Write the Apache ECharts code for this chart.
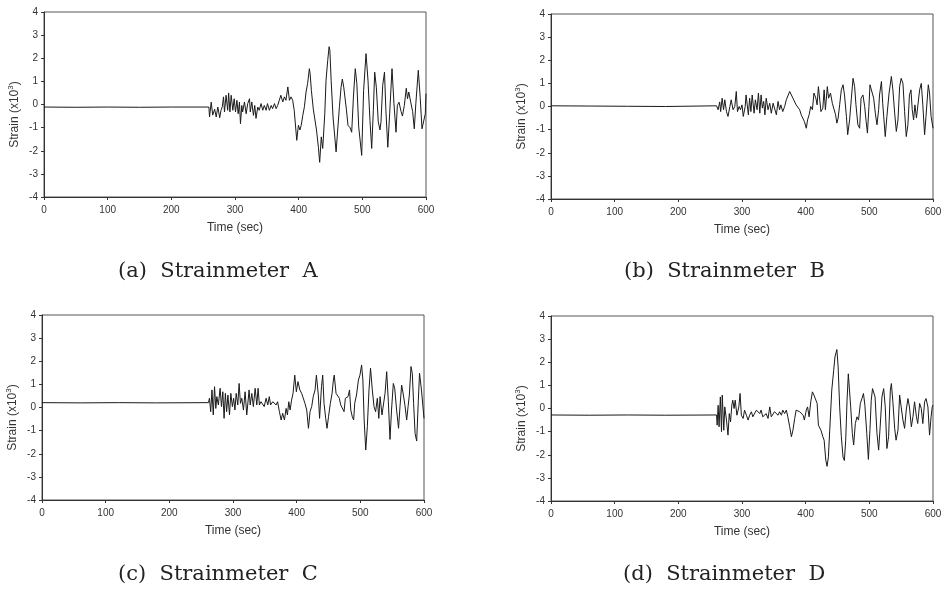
<!DOCTYPE html>
<html>
<head>
<meta charset="utf-8">
<script src="https://cdn.jsdelivr.net/npm/echarts@6/dist/echarts.min.js"></script>
<style>html,body{margin:0;padding:0;background:#fff;}#c{width:946px;height:595px;}</style>
</head>
<body>
<div id="c"></div>
<script>
// [time (sec), strain (x10^3)]
const strainA = [[0,-0.11],[50,-0.12],[100,-0.11],[150,-0.12],[200,-0.11],[259,-0.11],[260,-0.54],[262.6,0.1],[265,-0.46],[268,-0.2],[270.5,-0.54],[273,-0.11],[276,-0.57],[278,-0.25],[280,-0.1],[282,0.33],[283.5,-0.32],[286,0.4],[288.5,-0.25],[290,0.5],[292,-0.32],[294,0.4],[296.6,-0.25],[298.7,0.25],[300.8,-0.32],[303,0.18],[305,-0.4],[307,0.1],[308.6,-0.83],[310.7,-0.04],[312,-0.32],[314.9,0.11],[317.5,-0.4],[320,0.04],[322.8,0.25],[324,-0.32],[326.4,0.11],[329,-0.47],[331,-0.04],[333,-0.6],[335.8,-0.11],[338,-0.25],[341,0.04],[343.6,-0.25],[346,-0.04],[348.9,-0.25],[351,0.04],[354,-0.25],[356.8,-0.04],[359,-0.18],[362,0.04],[364.6,-0.18],[367,-0.04],[369.6,0.18],[372,0.4],[375,0.11],[377.6,0.33],[380,0.18],[383,0.76],[385.5,0.18],[388,0.33],[390.6,0.18],[393,-0.25],[397,-1.55],[399.6,-0.9],[402,-1.1],[404,-0.9],[406.5,-0.47],[409,-0.1],[411.6,0.54],[414,0.9],[416.8,1.55],[418,1.33],[420,0.6],[423,-0.2],[425.5,-0.25],[428,-1.1],[431,-1.85],[433,-2.5],[435.5,-1.4],[437.8,-1.9],[441,-0.4],[443,1.05],[445.6,1.9],[447.8,2.5],[449,2.35],[451,1.05],[454,-0.54],[458.8,-2.05],[461.3,-1.1],[464,-0.1],[466.6,0.75],[468.6,1.1],[470.8,0.75],[472.4,0.83],[474.9,-0.2],[477.5,-0.9],[480.7,-1.0],[483.3,-1.2],[486,0.32],[488.9,1.55],[491.4,0.9],[494.3,-0.97],[499,-2.2],[502,0.6],[505.8,2.2],[508.9,1.05],[512,-0.7],[514.7,-1.9],[517.3,-0.25],[519.4,1.4],[522,0.75],[525,-0.75],[527.7,-1.1],[529.3,-0.75],[532,0.83],[534.8,1.4],[537,-0.25],[540,-1.85],[542.9,-0.4],[546.6,1.55],[549.7,0.03],[552.9,-1.2],[555,-0.04],[557.6,0.1],[560.8,-0.3],[563,-0.5],[566,-0.04],[569,0.7],[571,0.25],[573,0.54],[576,0.1],[579,-0.3],[581.6,-1.05],[584,0.03],[587.9,1.48],[590.9,0.3],[593.7,-1.05],[596,-1.12],[598.9,-0.4],[600,0.47]];

const strainB = [[0,0.03],[60,0.02],[120,0.01],[180,0.0],[260,0.03],[262.5,-0.14],[265,0.2],[266.5,-0.22],[268.8,0.36],[271,-0.14],[273,0.29],[275.6,-0.22],[278,-0.43],[281,0.0],[283,0.29],[286,-0.14],[288.7,0.0],[291,0.65],[292.9,-0.22],[295.5,0.0],[297.6,-0.14],[300,0.07],[302,-0.43],[305,0.0],[306.4,0.5],[310,-0.36],[312,0.36],[314,-0.22],[316,0.5],[319,-0.29],[321,0.29],[323.7,-0.14],[325.8,0.58],[328,-0.29],[330,0.5],[332,-0.07],[334,0.22],[336,-0.36],[338,0.36],[340.9,-0.14],[343.6,0.14],[346,-0.29],[348.9,0.14],[351,-0.07],[354,-0.36],[356.6,0.22],[359,-0.14],[361,0.07],[364,-0.22],[367,0.0],[369.6,0.29],[372,0.22],[374.9,0.65],[377.6,0.72],[380,0.36],[382.8,0.29],[385,0.07],[388,0.14],[390.6,-0.14],[393,-0.36],[396,-0.36],[398,-0.65],[401,-0.94],[403,-0.58],[405.4,-0.36],[408,0.0],[410.6,-0.14],[413,0.58],[416,0.36],[418,0.07],[420,0.86],[424,-0.22],[427,-0.07],[429,0.72],[431,-0.14],[434,0.86],[436,0.36],[439,0.58],[441.9,0.14],[444,-0.07],[447,-0.36],[449,-0.72],[451,-0.5],[453.4,0.07],[456,0.72],[458.7,0.94],[461,0.5],[464,-0.43],[466,-1.22],[469,-0.58],[471.8,0.36],[474.4,1.22],[476.9,0.86],[479,0.07],[482,-0.79],[484.8,-0.94],[487,0.36],[490,0.5],[492.7,0.0],[495,-0.65],[497,-1.15],[499.4,0.0],[501,0.94],[504,1.0],[506.8,0.36],[509.4,-0.29],[512,-0.79],[514.6,-0.14],[516,0.5],[519,1.08],[521,0.14],[523,-0.58],[525,-1.3],[527.6,-0.43],[531,0.58],[534.6,1.3],[537,0.72],[539.8,-0.29],[542.4,-1.08],[545,-0.58],[547.6,0.86],[550,1.22],[552.8,1.0],[555.4,-0.22],[558,-1.3],[560.6,-0.79],[563,0.5],[565.4,0.72],[567.4,-0.14],[569.5,-0.58],[571.6,0.07],[574,-0.5],[576.4,-0.43],[579,0.72],[581.6,1.0],[584,0.07],[586.8,-1.22],[589,-0.43],[592.6,0.94],[594.6,0.58],[597,-0.43],[600,-0.94]];

const strainC = [[0,0.21],[60,0.2],[120,0.21],[180,0.2],[261.5,0.21],[263,0.4],[265,-0.18],[267,0.76],[269,-0.32],[271,0.9],[273,-0.04],[274.6,0.47],[277,0.11],[279.8,0.83],[281.9,0.04],[284,0.68],[286,-0.47],[288,0.61],[290,-0.18],[292,0.54],[294.5,-0.32],[296.6,0.61],[299,0.04],[301,0.4],[303,-0.11],[305,0.61],[307.5,0.11],[309.6,1.04],[311.7,0.18],[313.8,0.4],[316.4,-0.11],[319,0.68],[321.6,-0.32],[323,-0.4],[325.3,0.76],[327,0.11],[329.5,0.61],[332,0.04],[334.8,0.83],[337.4,0.11],[339.4,0.83],[341.5,0.11],[344,0.25],[346.8,0.32],[349,0.04],[352,0.4],[354.6,0.11],[357,0.47],[359,0.11],[362.5,0.25],[365,0.25],[367.7,0.11],[370,0.25],[372.9,-0.18],[375.6,-0.54],[378,-0.25],[380.8,-0.54],[383.4,-0.04],[385.5,-0.32],[387.6,0.25],[389.7,-0.11],[392,0.32],[394.3,0.61],[397,1.4],[399.5,0.68],[402,1.12],[405,0.76],[407.9,0.61],[410.6,0.61],[413,0.18],[415.8,-0.11],[418.5,-0.9],[421,-0.18],[423.6,0.04],[426,0.47],[428.9,0.76],[431,1.4],[434,0.54],[436,-0.47],[439,0.9],[440.9,1.4],[443,0.18],[445.6,-0.47],[447.7,-0.9],[450,-0.4],[452.9,0.18],[455.6,0.61],[457.7,1.19],[459,1.4],[461.9,0.61],[464.5,0.61],[467,0.4],[469.2,0.11],[471.8,0.04],[474.4,-0.18],[476.5,0.4],[478.6,0.32],[480.7,0.47],[483,0.76],[485,-0.11],[487.4,-0.4],[489.5,-0.54],[491.2,0.18],[494,0.54],[497,1.19],[499.4,1.4],[502,1.84],[504,1.19],[506,-0.54],[508.5,-1.84],[511,-0.83],[513.6,0.76],[516,1.7],[518.8,0.76],[521.5,0.04],[524,-0.18],[526.7,0.4],[529,-0.47],[531,0.47],[534,-0.32],[536,-0.4],[538.8,0.61],[541.4,1.55],[544,0.25],[546.6,-1.38],[549,-0.11],[551.8,1.04],[554,0.83],[557,-0.11],[560,-0.9],[562.3,0.04],[564.9,0.97],[567.6,0.54],[570,0.11],[572.8,-0.54],[575,0.04],[577,0.54],[579.6,1.77],[581.6,1.48],[583.7,0.18],[586,-1.12],[588.5,-1.45],[591,0.25],[593,1.48],[596,0.76],[598,0.76],[600,-0.47]];

const strainD = [[0,-0.28],[60,-0.29],[120,-0.28],[180,-0.29],[260,-0.28],[261,-0.72],[262.5,0.14],[264,-0.79],[266,0.5],[267.8,-1.0],[269,0.58],[271.4,-0.94],[273,0.07],[275.6,-0.5],[278,-1.15],[280,-0.22],[282,-0.58],[284,0.14],[285.5,0.36],[287.6,0.0],[289.3,0.36],[292,-0.29],[295,0.07],[297,0.65],[299,-0.29],[301.8,-0.43],[304,-0.07],[306.9,-0.29],[309.6,-0.5],[312,-0.29],[314.8,-0.14],[317,-0.36],[320,-0.29],[322.7,-0.07],[325,-0.14],[327.9,-0.22],[330,-0.07],[332.6,-0.36],[335,-0.29],[338,-0.22],[340.9,-0.43],[343.6,0.07],[346,-0.36],[348.9,-0.29],[351,-0.14],[354,-0.22],[356.6,-0.29],[359,-0.14],[361.9,-0.29],[364,-0.07],[367,-0.22],[369.6,-0.07],[372,-0.36],[374.9,-0.79],[377.6,-1.22],[380,-0.94],[382.8,-0.43],[385,-0.07],[388,0.0],[390.6,-0.14],[393,-0.07],[396,-0.29],[398,-0.5],[401,-0.07],[403,0.07],[405.4,-0.36],[408,0.29],[410.6,0.72],[413,0.58],[416,0.65],[418,0.22],[420,-0.72],[424,-0.94],[427,-1.22],[429,-1.37],[431.6,-2.23],[433.6,-2.5],[435.7,-2.09],[437.8,-0.94],[441,0.8],[444,1.65],[446,2.23],[449,2.55],[451,1.8],[453.4,0.07],[456,-1.22],[458.7,-2.1],[460.8,-2.25],[462.9,-1.37],[465,0.36],[467,1.5],[468.6,1.5],[470.7,0.07],[473.3,-1.08],[475.4,-1.58],[478,-0.65],[480.6,-0.36],[483,-0.5],[485.9,0.22],[488.4,0.43],[490.8,0.65],[493,0.14],[496,-1.08],[498.5,-2.2],[501,-0.9],[503,0.36],[505,0.86],[507,0.79],[509,0.5],[512,-1.08],[514.6,-1.8],[517,-0.79],[519.8,0.5],[522.5,0.86],[525,0.07],[527.6,-1.73],[530.3,-1.22],[533,0.79],[534.6,1.08],[537,0.29],[539.8,-0.86],[542,-1.37],[545,-0.94],[547.6,0.58],[550,0.07],[552.8,-0.5],[555.4,-0.86],[558,-0.07],[560.6,0.43],[563,0.07],[566,-0.79],[568.5,-0.36],[571,0.29],[574,-0.36],[576,-0.65],[579,0.22],[581.6,0.0],[584,-0.65],[586.8,0.29],[589,0.43],[592,0.07],[594.6,-1.15],[597,-0.36],[598.8,0.07],[600,0.15]];

const captions = ['(a)  Strainmeter  A', '(b)  Strainmeter  B', '(c)  Strainmeter  C', '(d)  Strainmeter  D'];
const xTitle = 'Time (sec)';
const yTitle = '{n|Strain (x10}{s|3}{n|)}';

const grids = [
  {left: 44, top: 12, width: 382, height: 185},
  {left: 551, top: 14, width: 382, height: 185},
  {left: 42, top: 315, width: 382, height: 185},
  {left: 551, top: 316, width: 382, height: 185}
];
const capPos = [[118, 274], [624, 274], [118, 577], [623, 577]];
const seriesData = [strainA, strainB, strainC, strainD];

const font = 'Liberation Sans, Arial, sans-serif';
const option = {
  animation: false,
  backgroundColor: '#fff',
  grid: grids.map(g => Object.assign({show: true, borderColor: '#555', borderWidth: 1, backgroundColor: 'transparent'}, g)),
  xAxis: grids.map((g, i) => ({
    type: 'value', gridIndex: i, min: 0, max: 600, interval: 100,
    name: xTitle, nameLocation: 'middle', nameGap: 25,
    nameTextStyle: {fontFamily: font, fontSize: 12, color: '#333'},
    axisLine: {show: true, onZero: false, lineStyle: {color: '#333', width: 1}},
    axisTick: {show: true, inside: false, length: 3, lineStyle: {color: '#333'}},
    axisLabel: {fontFamily: font, fontSize: 10, color: '#333', margin: 8},
    splitLine: {show: false}
  })),
  yAxis: grids.map((g, i) => ({
    type: 'value', gridIndex: i, min: -4, max: 4, interval: 1,
    name: yTitle, nameLocation: 'middle', nameGap: 21,
    nameTextStyle: {fontFamily: font, fontSize: 12, color: '#333', padding: [0, 20, 0, 0],
      rich: {n: {fontFamily: font, fontSize: 12, color: '#333'},
             s: {fontFamily: font, fontSize: 8, color: '#333', verticalAlign: 'top', padding: [0, 0, 8, 0]}}},
    axisLine: {show: true, onZero: false, lineStyle: {color: '#333', width: 1}},
    axisTick: {show: true, inside: false, length: 3, lineStyle: {color: '#333'}},
    axisLabel: {fontFamily: font, fontSize: 10, color: '#333', margin: 6},
    splitLine: {show: false}
  })),
  series: seriesData.map((d, i) => ({
    type: 'line', xAxisIndex: i, yAxisIndex: i, data: d,
    showSymbol: false, symbol: 'none',
    lineStyle: {color: '#1a1a1a', width: 1}
  })),
  graphic: captions.map((c, i) => ({
    type: 'text', left: capPos[i][0], top: capPos[i][1] - 13,
    style: {text: c, font: '21px "DejaVu Serif", serif', fill: '#222'}
  }))
};
echarts.init(document.getElementById('c')).setOption(option);
</script>
</body>
</html>
